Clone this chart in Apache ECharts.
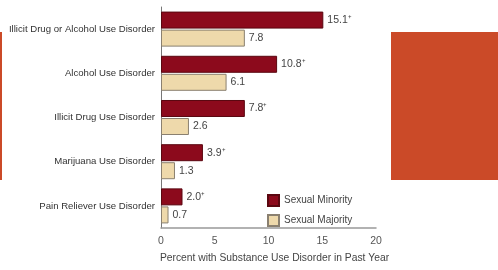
<!DOCTYPE html>
<html>
<head>
<meta charset="utf-8">
<script src="https://cdn.jsdelivr.net/npm/echarts@6/dist/echarts.min.js"></script>
<style>
  html, body { margin: 0; padding: 0; background: #fff; }
  #chart { width: 498px; height: 270px; }
</style>
</head>
<body>
<div id="chart"></div>
<script>
const categories = [
  'Illicit Drug or Alcohol Use Disorder',
  'Alcohol Use Disorder',
  'Illicit Drug Use Disorder',
  'Marijuana Use Disorder',
  'Pain Reliever Use Disorder'
];
const minority = [15.1, 10.8, 7.8, 3.9, 2.0];
const majority = [7.8, 6.1, 2.6, 1.3, 0.7];
const xTicks = [0, 5, 10, 15, 20];

const font = '"Liberation Sans Narrow", "Liberation Sans", Arial, sans-serif';
const chart = echarts.init(document.getElementById('chart'));

chart.setOption({
  animation: false,
  backgroundColor: '#fff',
  grid: { left: 161, right: 122, top: 7, bottom: 42, containLabel: false, outerBoundsMode: 'none' },
  legend: {
    orient: 'vertical',
    left: 262,
    top: 189,
    itemWidth: 11,
    itemHeight: 11,
    itemGap: 7,
    icon: 'rect',
    textStyle: { fontFamily: font, fontSize: 10, color: '#444' },
    data: ['Sexual Minority', 'Sexual Majority']
  },
  xAxis: {
    type: 'value',
    min: xTicks[0],
    max: xTicks[xTicks.length - 1],
    interval: 5,
    name: 'Percent with Substance Use Disorder in Past Year',
    nameLocation: 'middle',
    nameGap: 25,
    nameTextStyle: { fontFamily: font, fontSize: 10.3, color: '#444', padding: [0, 0, 0, 12] },
    axisLine: { show: true, lineStyle: { color: '#999', width: 1.5 } },
    axisTick: { show: false },
    splitLine: { show: false },
    axisLabel: { fontFamily: font, fontSize: 10.5, color: '#555', margin: 8 }
  },
  yAxis: {
    type: 'category',
    inverse: true,
    data: categories,
    axisLine: { show: true, lineStyle: { color: '#777', width: 1 } },
    axisTick: { show: false },
    axisLabel: { fontFamily: font, fontSize: 9.6, color: '#333', margin: 6 }
  },
  series: [
    {
      name: 'Sexual Minority',
      type: 'bar',
      data: minority,
      barWidth: 17,
      barGap: '6%',
      itemStyle: { color: '#8c0a1c', borderColor: '#5a0710', borderWidth: 1 },
      label: {
        show: true,
        position: 'right',
        distance: 4,
        fontFamily: font,
        fontSize: 10.5,
        color: '#444',
        formatter: p => p.value.toFixed(1) + '⁺'
      }
    },
    {
      name: 'Sexual Majority',
      type: 'bar',
      data: majority,
      barWidth: 17,
      itemStyle: { color: '#eed9ab', borderColor: '#8a8070', borderWidth: 1 },
      label: {
        show: true,
        position: 'right',
        distance: 4,
        fontFamily: font,
        fontSize: 10.5,
        color: '#444',
        formatter: p => p.value.toFixed(1)
      }
    }
  ],
  graphic: [
    { type: 'rect', shape: { x: 391, y: 32, width: 107, height: 148 }, style: { fill: '#cb4a28' } },
    { type: 'rect', shape: { x: 0, y: 32, width: 2, height: 148 }, style: { fill: '#cb4a28' } }
  ]
});
</script>
</body>
</html>
